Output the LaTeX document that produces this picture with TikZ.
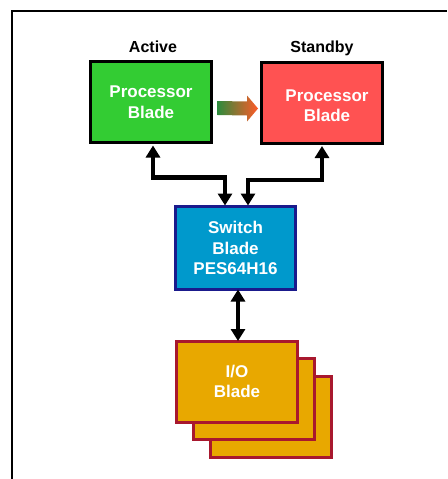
\documentclass[tikz,border=0pt]{standalone}
\usepackage{fontspec}
\setmainfont{Liberation Sans}
\usetikzlibrary{arrows.meta,calc}
\definecolor{pgreen}{HTML}{33CC33}
\definecolor{pred}{HTML}{FF5252}
\definecolor{sblue}{HTML}{0099CC}
\definecolor{snavy}{HTML}{1A1A8C}
\definecolor{iogold}{HTML}{E8A800}
\definecolor{iored}{HTML}{A8182E}
\definecolor{gstart}{HTML}{2E8B3C}
\definecolor{gend}{HTML}{FF5A28}
\begin{document}
\begin{tikzpicture}[x=1pt,y=-1pt,
  blade/.style={draw, line width=3pt, minimum width=121pt, minimum height=81pt,
    inner sep=0pt, align=center, text=white,
    font=\fontsize{17}{20.5}\selectfont\bfseries},
  bladetext/.style={align=center, text=white, inner sep=0pt,
    font=\fontsize{17}{20.5}\selectfont\bfseries},
  title/.style={font=\fontsize{16}{19}\selectfont\bfseries, text=black, inner sep=0pt},
  iobox/.style={blade, draw=iored, fill=iogold},
  link/.style={line width=4.5pt, draw=black,
    {Triangle[length=12pt,width=14pt]}-{Triangle[length=12pt,width=14pt]}}
]
\useasboundingbox (0,0) rectangle (447,479);
\fill[white] (0,0) rectangle (447,479);
\draw[line width=2pt] (12,479) -- (12,11) -- (447,11);

% processor blades
\node[blade, fill=pgreen, draw=black] (green) at (151,102) {Processor\\Blade};
\node[blade, fill=pred, draw=black] (red) at (321.5,102.5) {};
\node[bladetext] (redtxt) at (327,105.5) {Processor\\Blade};
\node[title] (active) at (153,47) {Active};
\node[title] (standby) at (322,48) {Standby};

% switch blade
\node[blade, fill=sblue, draw=snavy, minimum width=120pt, minimum height=83pt]
  (switch) at (235.5,248) {Switch\\Blade\\PES64H16};

% I/O blades
\node[iobox] (io3) at (271,416.5) {};
\node[iobox] (io2) at (254,399) {};
\node[iobox] (io1) at (237,381.5) {I/O\\Blade};

% gradient failover arrow
\path ($(green.east)+(4.5,0)$) coordinate (ga);
\path ($(red.west)+(-1.5,0)$) coordinate (gb);
\shade[left color=gstart, right color=gend]
  ($(ga)+(0,-1)$) -- ($(gb)+(-11,-1)$) -- ($(gb)+(-11,-7)$) -- ($(gb)+(0,6)$)
  -- ($(gb)+(-11,19)$) -- ($(gb)+(-11,13)$) -- ($(ga)+(0,13)$) -- cycle;

% links
\draw[link] ([xshift=2pt,yshift=-1.5pt]green.south) -- ++(0,32)
  -| ([xshift=-10.5pt,yshift=-0.5pt]switch.north);
\draw[link] ([xshift=0.5pt,yshift=-1.5pt]red.south) -- ++(0,34)
  -| ([xshift=12.5pt,yshift=-0.5pt]switch.north);
\draw[link] ([xshift=2.5pt,yshift=1.5pt]switch.south) -- ([xshift=1pt,yshift=-1.5pt]io1.north);
\end{tikzpicture}
\end{document}
